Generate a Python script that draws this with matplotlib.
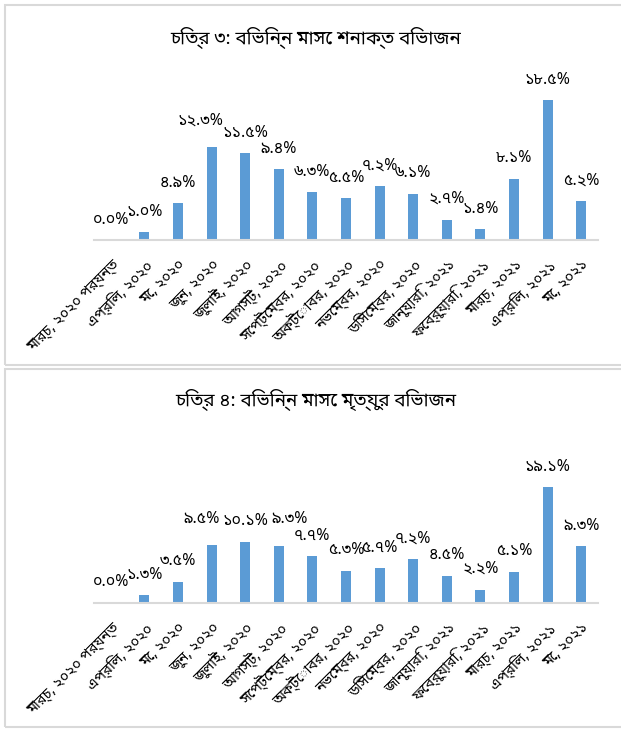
import matplotlib
matplotlib.use("Agg")
import matplotlib.pyplot as plt
from matplotlib.patches import Rectangle

plt.rcParams['font.family'] = ['Noto Sans Bengali', 'DejaVu Sans']

months = ['মার্চ, ২০২০ পর্যন্ত', 'এপ্রিল, ২০২০', 'মে, ২০২০', 'জুন, ২০২০',
          'জুলাই, ২০২০', 'আগস্ট, ২০২০', 'সেপ্টেম্বর, ২০২০', 'অক্টোবর, ২০২০',
          'নভেম্বর, ২০২০', 'ডিসেম্বর, ২০২০', 'জানুয়ারি, ২০২১', 'ফেব্রুয়ারি, ২০২১',
          'মার্চ, ২০২১', 'এপ্রিল, ২০২১', 'মে, ২০২১']
detected = [0.0, 1.0, 4.9, 12.3, 11.5, 9.4, 6.3, 5.5, 7.2, 6.1, 2.7, 1.4, 8.1, 18.5, 5.2]
deaths = [0.0, 1.3, 3.5, 9.5, 10.1, 9.3, 7.7, 5.3, 5.7, 7.2, 4.5, 2.2, 5.1, 19.1, 9.3]
title_detected = 'চিত্র ৩: বিভিন্ন মাসে শনাক্ত বিভাজন'
title_deaths = 'চিত্র ৪: বিভিন্ন মাসে মৃত্যুর বিভাজন'

# labels that were dragged aside in the original (index -> dx, dy in points)
nudge_detected = {3: (-8, 4)}
nudge_deaths = {3: (-7, 4), 5: (8, 5)}

BAR = '#5B9BD5'
GRAY = '#D9D9D9'
BN_DIGITS = str.maketrans('0123456789', '০১২৩৪৫৬৭৮৯')

W, H = 621, 729


def fx(px):
    return px / W


def fy(py):
    return 1 - py / H


def draw_chart(fig, values, title, nudge, title_px, top_px, axis_px, ymax, panel):
    # panel frame, runs past the right edge like the screenshot
    fig.patches.append(Rectangle((fx(5), fy(panel[1])), fx(640 - 5), (panel[1] - panel[0]) / H,
                                 transform=fig.transFigure, fill=False,
                                 edgecolor=GRAY, linewidth=1.5))
    fig.text(fx(316), fy(title_px), title, ha='center', va='center', fontsize=13.5)

    ax = fig.add_axes([fx(94), fy(axis_px), fx(598 - 94), (axis_px - top_px) / H])
    x = list(range(len(values)))
    bars = ax.bar(x, values, width=0.3, color=BAR)
    ax.set_xlim(-0.5, len(values) - 0.5)
    ax.set_ylim(0, ymax)
    for i, (b, v) in enumerate(zip(bars, values)):
        dx, dy = nudge.get(i, (0, 0))
        ax.annotate(f'{v:.1f}%'.translate(BN_DIGITS),
                    (b.get_x() + b.get_width() / 2, v),
                    xytext=(dx, 9 + dy), textcoords='offset points',
                    ha='center', va='bottom', fontsize=11.5)
    for s in ['top', 'right', 'left']:
        ax.spines[s].set_visible(False)
    ax.spines['bottom'].set_color(GRAY)
    ax.spines['bottom'].set_linewidth(1.5)
    ax.set_yticks([])
    ax.set_xticks(x)
    ax.set_xticklabels(months, rotation=45, ha='right', va='top',
                       rotation_mode='anchor', fontsize=10.5)
    ax.tick_params(axis='x', length=0, pad=12)
    ax.patch.set_alpha(0)
    return ax


fig = plt.figure(figsize=(6.21, 7.29), dpi=100)
draw_chart(fig, detected, title_detected, nudge_detected, 38, 89, 240, 20, (5, 365))
draw_chart(fig, deaths, title_deaths, nudge_deaths, 400, 451, 603, 25, (369, 727))
fig.savefig('out.png', dpi=100)
